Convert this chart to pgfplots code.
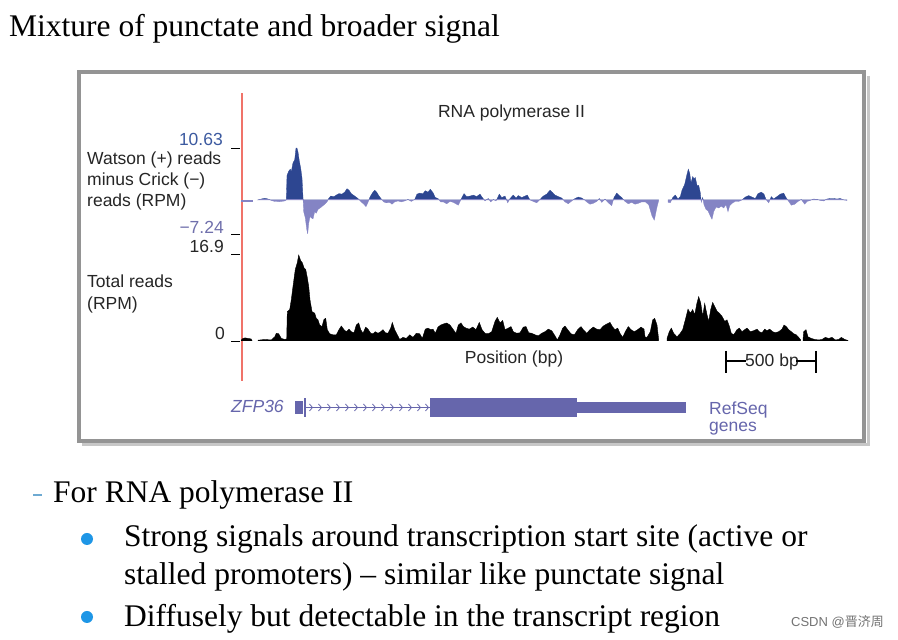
\documentclass[border=0pt]{standalone}
\usepackage{fontspec}
\setmainfont{Liberation Serif}
\newfontfamily\figsans{Liberation Sans}
\newfontfamily\cjk{Noto Sans CJK SC}
\usepackage{pgfplots}
\usepackage{pgfplotstable}
\pgfplotsset{compat=1.18}
\definecolor{posblue}{RGB}{45,70,145}
\definecolor{negblue}{RGB}{132,132,196}
\definecolor{labtop}{RGB}{60,90,160}
\definecolor{labneg}{RGB}{112,112,172}
\definecolor{gene}{RGB}{102,102,172}
\definecolor{bulletblue}{RGB}{30,150,230}
\definecolor{dashblue}{RGB}{110,170,210}
\definecolor{tssred}{RGB}{240,115,105}

\pgfplotstableread{
x y
241 -0.25
252 -0.25
}\topA
\pgfplotstableread{
x y
258 0
261.3 0.2
264.7 0.35
268 0.2
271.3 -0.1
274.7 -0.3
279.7 -0.35
284.7 -0.2
286.3 0
287 5.0
288.7 5.9
290.3 6.3
291.3 5.8
293 7.6
294.7 8.2
296 10.6
297 10.6
298 9.8
299.3 8.0
300.7 6.5
302 4.5
303 0.5
303.7 -2.5
305.3 -3.8
306.7 -6.2
307.7 -7.2
308.7 -5
310 -3.5
311.3 -3.8
313 -4.0
314.7 -2.5
316.3 -2.8
318 -2.0
320.7 -1.6
323 -1.2
325.3 -0.8
327.3 -0.3
328.7 0.3
330.7 0.8
334 0.7
336.3 1.0
339 1.3
342 1.2
344.7 1.6
347 2.3
349 2.0
351.3 1.3
354.7 0.8
358 0.3
360.7 -0.3
363.3 -0.8
366 -1.4
368 -0.5
370 0.6
372.3 1.4
374.7 2.0
376.7 1.6
378.7 0.9
381.3 0.2
383.7 -0.4
386.3 -0.6
389.7 -0.5
392 -0.9
394.7 -0.4
398 -0.2
401.3 -0.4
404.7 -0.2
408 0.1
411.3 -0.3
414.7 0.1
417 1.2
419.7 1.4
423 1.3
425.3 1.9
428 1.6
430.3 2.2
433 1.5
435.3 0.5
438 0.3
440.7 -0.4
443.3 -0.4
446.7 -0.8
450 -0.3
453.3 -0.5
458.3 -1.1
461.7 0.4
464 1.3
466.7 0.7
470 0.8
473.3 1.0
476.7 0.7
480 1.2
482.7 0.4
485 -0.2
488.3 0.3
490.7 -0.4
493.3 0.1
496 -0.2
499.3 1.2
501.7 0.5
505 0.8
507.7 -0.6
510 0.3
513.3 1.0
516 0.4
518.3 0.9
521.7 0.5
525 0.8
527.3 1.0
530 0.0
533.3 -0.3
536.7 -0.6
540 0.1
543.3 0.8
546.7 1.2
550 2.0
552.7 1.5
555 1.0
558.3 0.7
561.7 0.4
565 -0.4
568.3 -0.8
571.7 -0.2
575 0.3
578.3 0.6
581.7 0.4
584 0.1
586.7 -0.4
590 -0.9
593.3 -0.7
596.7 -0.3
599.3 0.3
601.7 -0.5
605 0.2
608.3 -0.6
611.7 -1.2
614 0.5
616.7 1.4
619.3 0.9
621.7 0.5
625 -0.3
628.3 -0.8
631.7 -0.5
635 -0.9
638.3 -0.7
641.7 -0.4
645.3 -0.4
648.7 -1.0
652 -3.4
654.3 -4.3
657 -1.5
658.7 -0.1
}\topB
\pgfplotstableread{
x y
668 -0.5
670.3 -0.6
672.7 0.5
675.3 1.0
678 0.2
680.3 0.7
682 2.0
684.7 3.2
686.7 5.0
688.3 6.3
689.7 5.5
691 3.5
692.7 4.8
694 4.3
695.3 4.6
697 3.0
698.7 3.0
700.3 1.5
701.3 -0.5
702.7 0.5
704 -1.0
706 -2.0
708 -2.3
710.3 -3.4
712 -4.1
713.7 -2.5
716 -1.5
718.7 -1.7
721.3 -1.3
723.7 -1.7
726 -1.0
728 -2.5
729.7 -1.2
732 -0.7
735.3 -0.3
738.7 -0.3
742 0.0
745.3 0.6
748.7 0.9
752 0.6
755.3 0.3
758 1.3
761.3 1.6
764 1.2
766 0.1
768.7 -0.6
771.3 0.7
773.7 0.2
777 0.7
780.3 1.2
783.7 1.4
786 0.5
788.7 -0.3
791.3 -1.1
794.7 -0.9
798 -0.3
801.3 0.1
804.7 -0.9
807 -0.3
810.3 -0.1
813.7 0.2
817 0.1
820.3 -0.1
823.7 -0.2
827 0.2
830.3 0.3
833.7 0.3
837 0.2
840.3 0.3
843.7 0.0
847 -0.1
}\topC

\pgfplotstableread{
x y
241 0.1
243 0.5
245 0.6
248 0.5
251 0.4
252 0.1
}\botA
\pgfplotstableread{
x y
258 0.15
264.7 0.3
271.3 0.2
274.7 0.8
276.3 1.5
278.7 1.4
281.3 0.5
284.7 0.3
286.7 0.4
287.3 5.7
289.7 6.1
291.3 8.0
293 10.6
295.3 13.9
297.3 15.2
298.7 16.7
300.7 15.6
302.3 15.2
304 14.2
305.7 13.9
307.3 12.3
308.7 10.6
310 8.0
312 5.7
314.7 5.4
316.3 4.4
318 4.1
319.7 3.1
322 2.8
324 4.2
325.7 4.4
327.3 2.2
329.7 1.4
333 1.2
336.3 1.2
339 2.2
341.3 2.9
344 2.2
346.3 1.8
349 2.3
351.3 1.8
354 1.6
356.3 3.1
358.7 3.5
360.7 2.2
363 1.5
365.7 2.7
368 2.3
370.7 1.5
373 1.4
375.3 1.8
378 1.5
380.7 1.8
383 2.2
385.3 1.6
388 1.5
390.7 2.5
392.3 3.6
394.7 2.2
397.3 1.2
399.7 0.3
403 0.7
406.3 0.5
409.7 1.2
413 0.7
416.3 1.5
419.7 1.4
422.3 0.5
425.3 2.3
428 2.5
430.7 2.2
433 2.3
435.3 1.5
438 2.7
440.7 3.1
443.3 3.3
446.7 3.5
450 3.1
453.3 2.2
456 1.5
458.3 3.1
461 3.5
463.3 2.8
466 2.5
469.3 2.3
472.7 2.7
476 2.2
479.3 3.6
482 2.2
485 1.5
488.3 1.4
491.7 1.8
495 3.8
497.3 4.6
500 3.5
502.7 4.0
505 2.2
508.3 2.5
511 2.8
513.3 1.8
516.7 1.5
520 1.6
523.3 2.7
526 2.8
528.7 1.6
531.7 1.5
535 1.2
538.3 1.0
541.7 1.5
545 1.8
548.3 2.3
551.7 2.0
555 1.0
557.3 0.2
560 1.2
562.7 2.5
565 2.9
567.7 2.2
571 1.4
574.3 1.2
577.7 2.2
581 2.8
583.3 2.2
586.7 1.5
590 2.2
593.3 2.7
596.7 2.3
600 2.2
603.3 2.9
606.7 3.3
610 3.6
612.7 2.7
615 2.2
617.7 2.5
620 1.5
622.7 0.7
625.3 1.8
628.3 2.8
631 2.2
634.3 1.8
637.7 2.2
641 2.7
644 2.3
645 0.8
647 0.7
650.3 1.8
652.7 4.1
654.7 4.4
657 3.1
658.7 0.2
}\botB
\pgfplotstableread{
x y
667 0.5
669.3 1.8
671.3 2.5
673.7 1.5
677 0.8
680.3 1.5
682.7 2.2
685.3 4.1
688 6.2
690.3 5.4
692.7 6.1
694.7 5.1
697 7.4
698.7 8.6
700.7 7.4
702.7 4.8
704.7 7.3
707 5.1
708.7 3.8
710.7 6.1
712.7 7.5
714.7 6.7
717 5.8
719.3 5.4
722 4.8
724.7 3.8
727 4.1
729.3 2.9
731.3 1.5
733.7 1.2
737 2.2
739.3 2.5
742 1.8
744.7 2.2
747 2.5
750.3 1.8
753.7 2.0
757 2.3
759.3 1.8
762 1.6
764.7 2.3
767 2.0
769.7 2.3
772.7 1.8
775.3 1.6
778.7 1.8
782 2.3
784 3.1
786.3 2.8
788.7 2.2
791.3 1.8
793.7 1.4
796.3 1.2
798.7 0.7
800.7 0.2
}\botC
\pgfplotstableread{
x y
803 0.3
803.7 1.8
806 2.2
808 0.8
811.3 0.5
814.7 0.3
818.7 0.2
822 0.3
825.3 0.7
828.7 0.5
832 0.7
835.3 0.2
838.7 0.3
841.3 0.7
844.7 0.3
848 0.1
}\botD

\pgfplotsset{trk/.style={scale only axis, axis lines=none, ticks=none,
  xmin=241, xmax=850, width=609pt, clip=true, anchor=south west}}

\begin{document}
\begin{tikzpicture}[x=1pt,y=1pt]
\useasboundingbox[fill=white] (0,0) rectangle (898,640);

% title
\node[anchor=base west, inner sep=0, font=\fontsize{31.5}{36}\selectfont] at (9,603) {Mixture of punctate and broader signal};

% frame with shadow
\draw[line width=3pt, black!22] (868,564) -- (868,195) -- (82,195);
\draw[line width=4pt, black!42] (79,568) rectangle (864,199);

% red TSS line, as a filled strip
\fill[tssred] (240.5,547) rectangle (242.5,259);

% title of figure
\node[anchor=base, inner sep=0, font=\figsans\fontsize{17.5}{20}\selectfont, text=black!85] at (511.5,522) {RNA polymerase II};

% ticks
\draw[black, line width=0.8pt] (231,492) -- (240,492);
\draw[black, line width=0.8pt] (231,406) -- (240,406);
\draw[black, line width=0.8pt] (231,386) -- (240,386);
\draw[black, line width=0.8pt] (231,299) -- (240,299);

% left labels
\begin{scope}[every node/.style={inner sep=0, font=\figsans\fontsize{17.5}{20}\selectfont, text=black!85}]
\node[anchor=base east, text=labtop] at (223,494) {10.63};
\node[anchor=base west] at (87,475) {Watson (+) reads};
\node[anchor=base west] at (87,454) {minus Crick (−)};
\node[anchor=base west] at (87,433.3) {reads (RPM)};
\node[anchor=base east, text=labneg] at (224,406.5) {−7.24};
\node[anchor=base east] at (224,387.5) {16.9};
\node[anchor=base west] at (87,352) {Total reads};
\node[anchor=base west] at (87,330) {(RPM)};
\node[anchor=base east] at (225,300) {0};
\node[anchor=base] at (514,276) {Position (bp)};
\node[anchor=base] at (772,273) {500 bp};
\node[anchor=base west, text=gene, font=\figsans\itshape\fontsize{17.5}{20}\selectfont] at (231,227) {ZFP36};
\node[anchor=base west, text=gene] at (709,225) {RefSeq};
\node[anchor=base west, text=gene] at (709,208) {genes};
\end{scope}

% scale bar
\draw[black, line width=2.6pt] (726,289) -- (726,267);
\draw[black, line width=2.6pt] (816,289) -- (816,267);
\draw[black, line width=1.8pt] (726,279) -- (746,279);
\draw[black, line width=1.8pt] (796,279) -- (816,279);

% Watson minus Crick: positive part
\begin{axis}[trk, at={(241pt,440pt)}, height=52pt, ymin=0, ymax=10.63]
\addplot[fill=posblue, draw=posblue, line width=0.3pt] table {\topA} \closedcycle;
\addplot[fill=posblue, draw=posblue, line width=0.3pt] table {\topB} \closedcycle;
\addplot[fill=posblue, draw=posblue, line width=0.3pt] table {\topC} \closedcycle;
\end{axis}
% negative part
\begin{axis}[trk, at={(241pt,406pt)}, height=34pt, ymin=-7.24, ymax=0]
\addplot[fill=negblue, draw=negblue, line width=0.3pt] table {\topA} \closedcycle;
\addplot[fill=negblue, draw=negblue, line width=0.3pt] table {\topB} \closedcycle;
\addplot[fill=negblue, draw=negblue, line width=0.3pt] table {\topC} \closedcycle;
\end{axis}

% Total reads
\begin{axis}[trk, at={(241pt,299pt)}, height=87pt, ymin=0, ymax=16.9]
\addplot[fill=black, draw=black, line width=0.4pt] table {\botA} \closedcycle;
\addplot[fill=black, draw=black, line width=0.4pt] table {\botB} \closedcycle;
\addplot[fill=black, draw=black, line width=0.4pt] table {\botC} \closedcycle;
\addplot[fill=black, draw=black, line width=0.4pt] table {\botD} \closedcycle;
\end{axis}

% gene model
\begin{axis}[trk, at={(241pt,215pt)}, height=35pt, ymin=0, ymax=1, unbounded coords=jump]
\addplot[fill=gene, draw=none] coordinates {(295,0.314) (303,0.314) (303,0.686) (295,0.686)} --cycle;
\addplot[gene, line width=2pt] coordinates {(304.5,0.229) (304.5,0.771)};
\addplot[gene, line width=1.2pt] coordinates {(304.5,0.5) (430,0.5)};
\addplot[gene, line width=0.8pt] coordinates {
(309.5,0.6) (312.5,0.5) (309.5,0.4) (nan,nan)
(318.5,0.6) (321.5,0.5) (318.5,0.4) (nan,nan)
(327.5,0.6) (330.5,0.5) (327.5,0.4) (nan,nan)
(336.5,0.6) (339.5,0.5) (336.5,0.4) (nan,nan)
(345.5,0.6) (348.5,0.5) (345.5,0.4) (nan,nan)
(354.5,0.6) (357.5,0.5) (354.5,0.4) (nan,nan)
(363.5,0.6) (366.5,0.5) (363.5,0.4) (nan,nan)
(372.5,0.6) (375.5,0.5) (372.5,0.4) (nan,nan)
(381.5,0.6) (384.5,0.5) (381.5,0.4) (nan,nan)
(390.5,0.6) (393.5,0.5) (390.5,0.4) (nan,nan)
(399.5,0.6) (402.5,0.5) (399.5,0.4) (nan,nan)
(408.5,0.6) (411.5,0.5) (408.5,0.4) (nan,nan)
(417.5,0.6) (420.5,0.5) (417.5,0.4) (nan,nan)
(425.5,0.6) (428.5,0.5) (425.5,0.4)
};
\addplot[fill=gene, draw=none] coordinates {(430,0.229) (577,0.229) (577,0.771) (430,0.771)} --cycle;
\addplot[fill=gene, draw=none] coordinates {(577,0.343) (686,0.343) (686,0.657) (577,0.657)} --cycle;
\end{axis}

% bullets text
\fill[dashblue] (33,145.5) rectangle (42,144);
\node[anchor=base west, inner sep=0, font=\fontsize{31.5}{36}\selectfont] at (53,137.3) {For RNA polymerase II};
\fill[bulletblue] (87,101) circle (6);
\fill[bulletblue] (87,23) circle (6);
\node[anchor=base west, inner sep=0, font=\fontsize{31.5}{36}\selectfont] at (124,93.3) {Strong signals around transcription start site (active or};
\node[anchor=base west, inner sep=0, font=\fontsize{31.5}{36}\selectfont] at (124,55) {stalled promoters) – similar like punctate signal};
\node[anchor=base west, inner sep=0, font=\fontsize{31.5}{36}\selectfont] at (124,13.3) {Diffusely but detectable in the transcript region};

% watermark
\node[anchor=base east, inner sep=0, font=\figsans\fontsize{13}{15}\selectfont, text=black!55] at (884,13) {CSDN @{\cjk 晋济周}};
\end{tikzpicture}
\end{document}
